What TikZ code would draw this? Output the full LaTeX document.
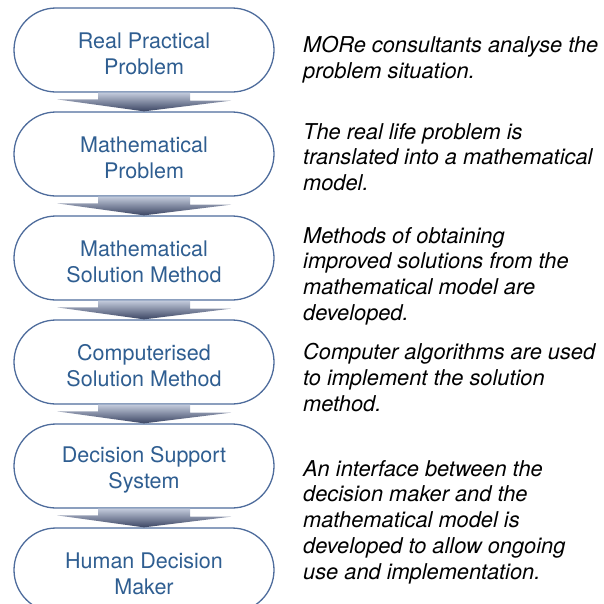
\documentclass[tikz,border=0pt]{standalone}
\usepackage{fontspec}
\setmainfont{TeX Gyre Heros}
\usetikzlibrary{calc}
\definecolor{boxline}{HTML}{4E6C9C}
\definecolor{boxtext}{HTML}{2F5E91}
\definecolor{arrtop}{HTML}{C2CADB}
\definecolor{arrbot}{HTML}{3A4462}
\newcommand\lift{\rule{0pt}{24pt}}
\begin{document}
\begin{tikzpicture}[x=1pt, y=-1pt,
  stage/.style={draw=boxline, line width=1.3pt, fill=white, text=boxtext,
    minimum width=260pt, minimum height=84pt, rounded corners=42pt, align=center,
    font=\fontsize{21.5}{25.8}\selectfont},
  note/.style={anchor=north west, inner sep=0pt, align=left,
    font=\itshape\fontsize{21.8}{25.8}\selectfont},
  arrowfill/.style={top color=arrtop, bottom color=arrbot}]
\useasboundingbox (0,0) rectangle (604,603);
\clip (0,0) rectangle (604,603);
\node[stage] (b1) at (144, 50) {\lift Real Practical\\Problem};
\node[stage] (b2) at (144, 154) {\lift Mathematical\\Problem};
\node[stage] (b3) at (144, 258) {\lift Mathematical\\Solution Method};
\node[stage] (b4) at (144, 362) {\lift Computerised\\Solution Method};
\node[stage] (b5) at (144, 466) {\lift Decision Support\\System};
\node[stage] (b6) at (144, 570) {\lift Human Decision\\Maker};
\foreach \a/\b in {b1/b2, b2/b3, b3/b4, b4/b5, b5/b6}
  \shade[arrowfill] (\a.south) ++(-46,0) -- ++(92,0) -- ++(0,8) -- ++(41,0)
    -- (\b.north) -- ++(-87,-12) -- ++(41,0) -- cycle;
\node[note] (d1) at (303, 36) {MORe consultants analyse the\\problem situation.};
\node[note] (d2) at (303, 123) {The real life problem is\\translated into a mathematical\\model.};
\node[note] (d3) at (303, 227) {Methods of obtaining\\improved solutions from the\\mathematical model are\\developed.};
\node[note] (d4) at (303, 343) {Computer algorithms are used\\to implement the solution\\method.};
\node[note] (d5) at (303, 460) {An interface between the\\decision maker and the\\mathematical model is\\developed to allow ongoing\\use and implementation.};
\end{tikzpicture}
\end{document}
